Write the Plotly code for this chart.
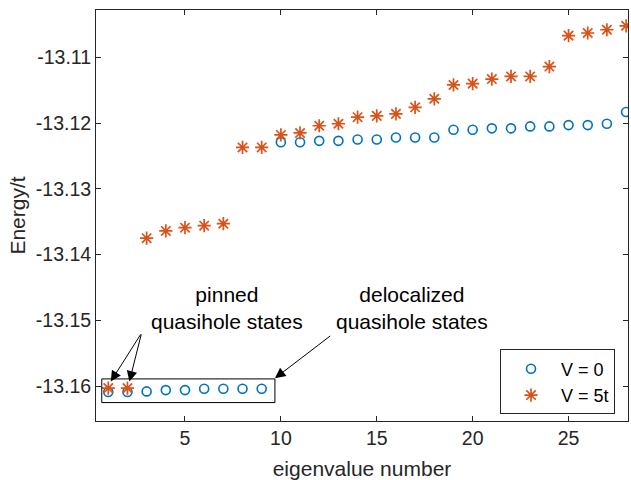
import plotly.graph_objects as go

# ---- data ----
eig_v0 = list(range(1, 29))
energy_v0 = [-13.1609, -13.1609, -13.1608, -13.1606, -13.1606, -13.1604, -13.1604, -13.1604, -13.1604,
             -13.1229, -13.1229, -13.1227, -13.1227, -13.1225, -13.1225, -13.1222, -13.1222, -13.1222,
             -13.1210, -13.1210, -13.1208, -13.1208, -13.1205, -13.1205, -13.1203, -13.1203, -13.1201,
             -13.1183]
eig_v5 = list(range(1, 29))
energy_v5 = [-13.1603, -13.1603, -13.1375, -13.1364, -13.1359, -13.1356, -13.1353,
             -13.1237, -13.1237, -13.1218, -13.1215, -13.1204, -13.1201, -13.1191,
             -13.1189, -13.1186, -13.1176, -13.1163, -13.1142, -13.1140, -13.1133,
             -13.1129, -13.1129, -13.1114, -13.1067, -13.1063, -13.1058, -13.1052]

x_tickvals = [5, 10, 15, 20, 25]
y_tickvals = [-13.16, -13.15, -13.14, -13.13, -13.12, -13.11]
y_ticktext = ["-13.16", "-13.15", "-13.14", "-13.13", "-13.12", "-13.11"]

series_names = ["V = 0", "V = 5t"]
label_pinned = "pinned<br>quasihole states"
label_deloc = "delocalized<br>quasihole states"

FONT = "Liberation Sans, Arial, Helvetica, sans-serif"
AXC = "#262626"

fig = go.Figure()
fig.add_trace(go.Scatter(
    x=eig_v0, y=energy_v0, mode="markers", name=series_names[0],
    marker=dict(symbol="circle-open", size=9, color="#0072BD", line=dict(width=1.6, color="#0072BD")),
))
fig.add_trace(go.Scatter(
    x=eig_v5, y=energy_v5, mode="markers", name=series_names[1],
    marker=dict(symbol="asterisk-open", size=11, color="#D95319", line=dict(width=1.7, color="#D95319")),
))

# box around the low-lying quasihole states
fig.add_shape(type="rect", xref="x", yref="y", x0=0.66, x1=9.69, y0=-13.1625, y1=-13.1589,
              line=dict(color="black", width=1), fillcolor="rgba(0,0,0,0)", layer="above")

# text labels
fig.add_annotation(x=7.2, y=-13.1481, xref="x", yref="y", text=label_pinned, showarrow=False,
                   font=dict(family=FONT, size=21, color="black"), align="center")
fig.add_annotation(x=16.83, y=-13.1481, xref="x", yref="y", text=label_deloc, showarrow=False,
                   font=dict(family=FONT, size=21, color="black"), align="center")

# arrows
arrows = [
    (1.13, -13.1593, 2.74, -13.1519),
    (2.10, -13.1593, 2.74, -13.1519),
    (9.69, -13.1588, 12.65, -13.1522),
]
for hx, hy, tx, ty in arrows:
    fig.add_annotation(x=hx, y=hy, ax=tx, ay=ty, xref="x", yref="y", axref="x", ayref="y",
                       text="", showarrow=True, arrowhead=2, arrowsize=2.1, arrowwidth=1,
                       arrowcolor="black", standoff=0, startstandoff=0)

fig.update_layout(
    width=631, height=480,
    margin=dict(l=96, r=3, t=10, b=59, autoexpand=False),
    paper_bgcolor="white", plot_bgcolor="white",
    font=dict(family=FONT, size=19, color=AXC),
    showlegend=True,
    legend=dict(
        x=0.9756, xanchor="right", y=0.174, yanchor="top",
        bgcolor="white", bordercolor=AXC, borderwidth=1,
        font=dict(family=FONT, size=18, color="black"),
        itemwidth=50, tracegroupgap=0,
    ),
)
fig.update_xaxes(
    range=[0.36, 28.1], tickvals=x_tickvals, ticks="inside", ticklen=5, tickwidth=1, tickcolor=AXC,
    showline=True, linecolor=AXC, linewidth=1, mirror="ticks", showgrid=False, zeroline=False,
    automargin=False,
    title=dict(text="eigenvalue number", font=dict(family=FONT, size=21, color=AXC), standoff=13),
    tickfont=dict(family=FONT, size=19.5, color=AXC),
)
fig.update_yaxes(
    range=[-13.1653, -13.1028], tickvals=y_tickvals, ticktext=y_ticktext, ticks="inside", ticklen=5,
    tickwidth=1, tickcolor=AXC, automargin=False,
    showline=True, linecolor=AXC, linewidth=1, mirror="ticks", showgrid=False, zeroline=False,
    title=dict(text="Energy/t", font=dict(family=FONT, size=21, color=AXC), standoff=4),
    tickfont=dict(family=FONT, size=19.5, color=AXC),
)

fig.write_html("out.html", config={"displayModeBar": False},
               post_script="document.body.style.margin='0';document.body.style.padding='0';")
